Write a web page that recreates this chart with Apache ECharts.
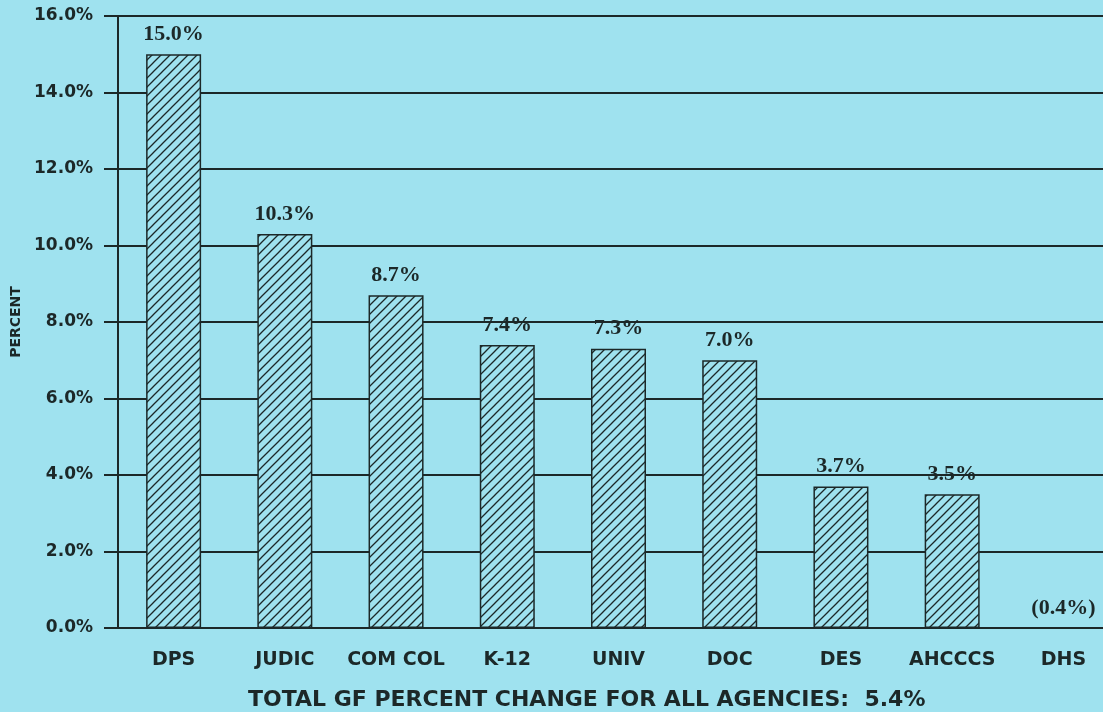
<!DOCTYPE html>
<html>
<head>
    <meta http-equiv="Content-Type" content="text/html; charset=utf-8"/>
    <title>GF percent change by agency</title>
    <style type="text/css">
        html, body { margin: 0; padding: 0; background: #9fe2ef; }
        #container { width: 1103px; height: 712px; }
    </style>
</head>
<body>
<div id="container"></div>
<script type="text/javascript" src="https://cdn.jsdelivr.net/npm/echarts@6/dist/echarts.min.js"></script>
<script type="text/javascript">
    // 数据
    var agencies = ['DPS', 'JUDIC', 'COM COL', 'K-12', 'UNIV', 'DOC', 'DES', 'AHCCCS', 'DHS'];
    var pctChange = [15.0, 10.3, 8.7, 7.4, 7.3, 7.0, 3.7, 3.5, -0.4];
    var yTicks = [0, 2, 4, 6, 8, 10, 12, 14, 16];
    var totalChange = 5.4;

    var bg = '#9fe2ef';
    var ink = '#1c2828';

    // 斜线填充
    function hatch() {
        var n = 9;
        var c = document.createElement('canvas');
        c.width = n; c.height = n;
        var g = c.getContext('2d');
        g.fillStyle = bg;
        g.fillRect(0, 0, n, n);
        g.strokeStyle = ink;
        g.lineWidth = 1.3;
        g.beginPath();
        g.moveTo(0, n); g.lineTo(n, 0);
        g.moveTo(-2, 2); g.lineTo(2, -2);
        g.moveTo(n - 2, n + 2); g.lineTo(n + 2, n - 2);
        g.stroke();
        return c;
    }

    function fmt(v) {
        var s = Math.abs(v).toFixed(1) + '%';
        return v < 0 ? '(' + s + ')' : s;
    }

    // 负值柱子在 0 轴下方不画出来，只留标签
    var barData = pctChange.map(function (v) {
        if (v >= 0) return v;
        return { value: v, itemStyle: { color: 'none', borderColor: 'none' } };
    });

    var myChart = echarts.init(document.getElementById('container'));
    var option = {
        backgroundColor: bg,
        animation: false,
        title: {
            text: 'TOTAL GF PERCENT CHANGE FOR ALL AGENCIES:  ' + totalChange.toFixed(1) + '%',
            left: 243,
            top: 684,
            textStyle: { fontFamily: 'DejaVu Sans', fontWeight: 'bold', fontSize: 22, color: ink }
        },
        grid: { left: 118, right: -16, top: 16, bottom: 84, outerBoundsMode: 'none' },
        xAxis: {
            type: 'category',
            data: agencies,
            axisLine: { lineStyle: { color: ink, width: 2 } },
            axisTick: { alignWithLabel: true, length: 10, lineStyle: { color: ink, width: 1.5 } },
            axisLabel: {
                interval: 0, margin: 23, color: ink,
                fontFamily: 'DejaVu Sans', fontWeight: 'bold', fontSize: 19
            }
        },
        yAxis: {
            type: 'value',
            min: yTicks[0],
            max: yTicks[yTicks.length - 1],
            interval: 2,
            name: 'PERCENT',
            nameLocation: 'middle',
            nameRotate: 90,
            nameGap: 92,
            nameTextStyle: { color: ink, fontFamily: 'DejaVu Sans', fontWeight: 'bold', fontSize: 14 },
            axisLine: { show: true, lineStyle: { color: ink, width: 2 } },
            axisTick: { show: true, length: 14, lineStyle: { color: ink, width: 2 } },
            axisLabel: {
                margin: 25, color: ink, fontFamily: 'DejaVu Sans', fontWeight: 'bold', fontSize: 17,
                formatter: function (v) { return v.toFixed(1) + '%'; }
            },
            splitLine: { show: true, lineStyle: { color: ink, width: 2 } }
        },
        series: [{
            type: 'bar',
            data: barData,
            barWidth: 55,
            clip: false,
            itemStyle: {
                color: { image: hatch(), repeat: 'repeat' },
                borderColor: ink,
                borderWidth: 1.5
            },
            label: {
                show: true,
                position: 'top',
                distance: 9,
                color: ink,
                fontFamily: 'Liberation Serif',
                fontWeight: 'bold',
                fontSize: 22,
                formatter: function (p) { return fmt(p.value); }
            }
        }]
    };
    myChart.setOption(option);
</script>
</body>
</html>
